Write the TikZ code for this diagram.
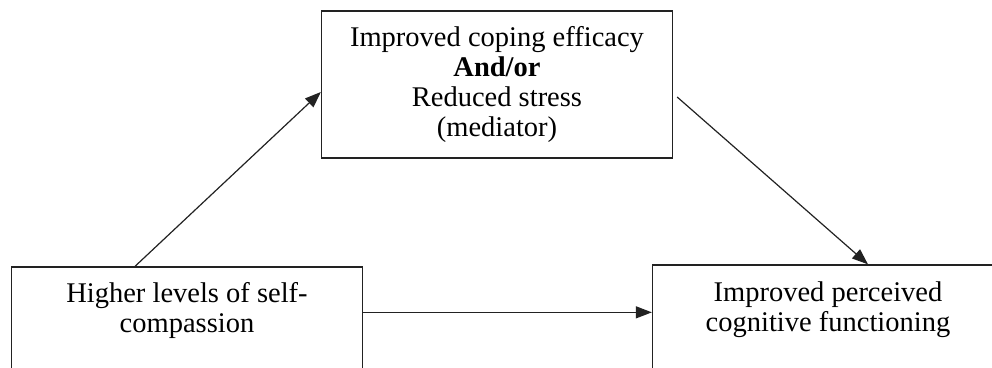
\documentclass[tikz,border=0pt]{standalone}
\usepackage{fontspec}
\setmainfont{Liberation Serif}
\usetikzlibrary{arrows.meta,positioning}
\definecolor{pathgray}{HTML}{222222}

\begin{document}
\begin{tikzpicture}[x=1pt,y=1pt,
  varbox/.style={rectangle,draw=pathgray,line width=1.3pt,minimum width=351pt,
                 minimum height=147pt,inner sep=0pt},
  vartext/.style={font=\fontsize{28.5}{30}\selectfont,align=center,inner sep=0pt},
  patharrow/.style={draw=pathgray,line width=1.2pt,-{Triangle[length=16pt,width=12pt]}}
]
\useasboundingbox (0,0) rectangle (992,367);
\clip (0,0) rectangle (992,367);

% ---- Mediator ----------------------------------------------
\node[varbox,vartext] (med) at (497,282.5) {Improved coping efficacy\\\textbf{And/or}\\Reduced stress\\(mediator)};

% ---- Predictor ---------------------------------------------
\node[varbox] (self) at (187,26.5) {};
\node[vartext,anchor=north] (selftxt) at (187,85) {Higher levels of self-\\compassion};

% ---- Outcome -----------------------------------------------
\node[varbox] (perc) at (828,28.5) {};
\node[vartext,anchor=north] (perctxt) at (828,85) {Improved perceived\\cognitive functioning};

% ---- Paths -------------------------------------------------
\draw[patharrow] ([xshift=-52pt]self.north) -- ([yshift=-7.5pt]med.west);
\draw[patharrow] ([xshift=4pt,yshift=-12.5pt]med.east) -- ([xshift=40pt]perc.north);
\draw[patharrow] ([yshift=-46pt]self.north east) -- ([yshift=-46pt]self.north east -| perc.west);

\end{tikzpicture}
\end{document}
